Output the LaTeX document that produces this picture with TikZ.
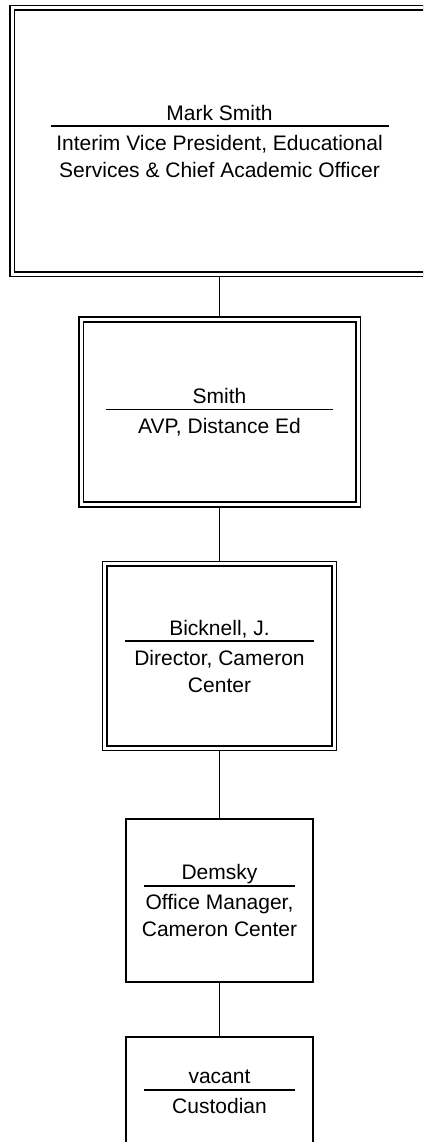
\documentclass[tikz,border=0pt]{standalone}
\usepackage{fontspec}
\setmainfont{Liberation Sans}

\tikzset{
  unit/.style={draw, line width=1.5pt, inner sep=0pt, align=center,
    font=\fontsize{21}{27}\selectfont},
  dunit/.style={unit, double, line width=1.6pt, double distance=3pt, outer sep=3.1pt},
  link/.style={line width=1.5pt},
}

\begin{document}
\begin{tikzpicture}[x=1pt,y=-1pt]
    \useasboundingbox (0,0) rectangle (423,1142);
    \clip (0,0) rectangle (423,1142);

    \node[dunit, minimum width=415pt, minimum height=266.5pt] (vp) at (219.5,141)
        {Mark Smith\\[-20pt]\rule{338pt}{1.6pt}\\[-4pt]Interim Vice President, Educational\\Services \& Chief Academic Officer};
    \node[dunit, minimum width=277pt, minimum height=185pt] (avp) at (219.5,412)
        {Smith\\[-20pt]\rule{227pt}{1.6pt}\\[-4pt]AVP, Distance Ed};
    \node[dunit, minimum width=229.5pt, minimum height=184.5pt] (dir) at (219.5,656)
        {Bicknell, J.\\[-20pt]\rule{189pt}{1.6pt}\\[-4pt]Director, Cameron\\Center};
    \node[unit, minimum width=187pt, minimum height=163pt] (mgr) at (219.5,900.5)
        {Demsky\\[-20pt]\rule{151pt}{1.6pt}\\[-4pt]Office Manager,\\Cameron Center};
    \node[unit, minimum width=187pt, minimum height=110pt] (cust) at (219.5,1092)
        {vacant\\[-20pt]\rule{151pt}{1.6pt}\\[-4pt]Custodian};

    \draw[link] (vp.south) -- (avp.north);
    \draw[link] (avp.south) -- (dir.north);
    \draw[link] (dir.south) -- (mgr.north);
    \draw[link] (mgr.south) -- (cust.north);

\end{tikzpicture}
\end{document}
